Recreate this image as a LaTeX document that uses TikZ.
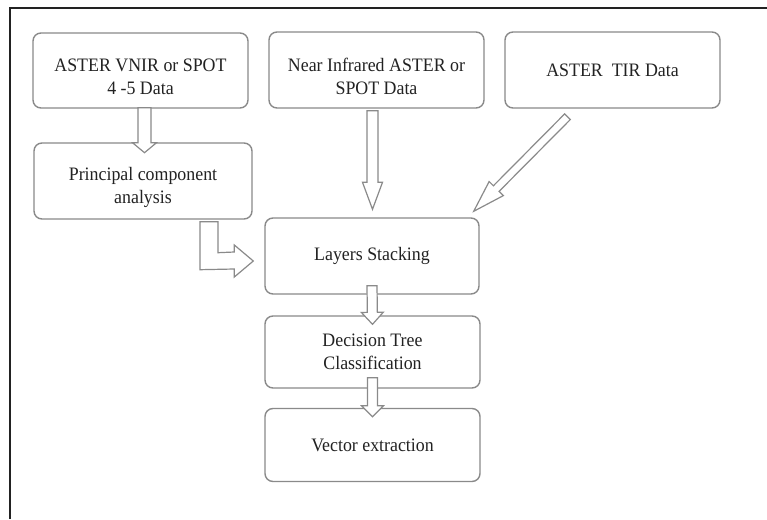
\documentclass[tikz,border=0pt]{standalone}
\usepackage{fontspec}
\setmainfont{Liberation Serif}[FakeStretch=0.94]
\usetikzlibrary{calc}
\definecolor{boxgray}{HTML}{8A8A8A}
\definecolor{txtc}{HTML}{222222}
\definecolor{framec}{HTML}{222222}
\newcommand\lowstrut{\rule{0pt}{26pt}}
\tikzset{
  procbox/.style={draw=boxgray, line width=1.4pt, rounded corners=8pt, fill=white,
    align=center, text=txtc, inner sep=0pt,
    font=\fontsize{19}{23}\selectfont},
  blockar/.style={draw=boxgray, line width=1.2pt, fill=white, line join=miter},
}
\newcommand\blockarrow[5]{%
  \path (#1) coordinate (ba-s) (#2) coordinate (ba-e);
  \path ($(ba-e)!#5!(ba-s)$) coordinate (ba-h);
  \draw[blockar] ($(ba-s)!#3!90:(ba-e)$) -- ($(ba-h)!#3!90:(ba-e)$)
    -- ($(ba-h)!#4!90:(ba-e)$) -- (ba-e) -- ($(ba-h)!#4!-90:(ba-e)$)
    -- ($(ba-h)!#3!-90:(ba-e)$) -- ($(ba-s)!#3!-90:(ba-e)$) -- cycle;
}
\begin{document}
\begin{tikzpicture}[x=1pt,y=-1pt]
\useasboundingbox[fill=white] (0,0) rectangle (767,519);
% frame
\draw[framec, line width=2.5pt] (10,519) -- (10,8) -- (767,8);
% boxes
\node[procbox, minimum width=215pt, minimum height=75pt] (A) at (140.5,70.5) {\lowstrut ASTER VNIR or SPOT\\4 -5 Data};
\node[procbox, minimum width=215pt, minimum height=76pt] (B) at (376.5,70) {\lowstrut Near Infrared ASTER or\\SPOT Data};
\node[procbox, minimum width=215pt, minimum height=76pt] (C) at (612.5,70) {ASTER\ \ TIR Data};
\node[procbox, minimum width=218pt, minimum height=76pt] (D) at (143,181) {\lowstrut Principal component\\analysis};
\node[procbox, minimum width=214pt, minimum height=76pt] (E) at (372,256) {Layers Stacking};
\node[procbox, minimum width=215pt, minimum height=72pt] (F) at (372.5,352) {Decision Tree\\Classification};
\node[procbox, minimum width=215pt, minimum height=73pt] (G) at (372.5,445) {Vector extraction};
% arrows
\blockarrow{$(A.south)+(4,-1)$}{$(A.south)+(4,44)$}{6.5pt}{12pt}{10pt}
\blockarrow{$(B.south)+(-4,2)$}{$(E.north)+(0.5,-8)$}{5.5pt}{10pt}{27pt}
\blockarrow{$(C.south)+(-45,8)$}{$(E.north east)+(-6,-6)$}{4pt}{10pt}{32pt}
\blockarrow{$(E.south)+(0,-9)$}{$(F.north)+(0,9)$}{5pt}{11pt}{12pt}
\blockarrow{$(F.south)+(0,-11)$}{$(G.north)+(0,9)$}{5pt}{11pt}{11pt}
% L-shaped arrow from D to E
\draw[blockar] ($(D.south)+(57,2)$) -- ($(D.south)+(57,50)$) -- ($(E.west)+(-30,13)$)
  -- ($(E.west)+(-30,21)$) -- ($(E.west)+(-11,5)$) -- ($(E.west)+(-30,-11)$)
  -- ($(E.west)+(-30,-4)$) -- ($(D.south)+(75,33)$) -- ($(D.south)+(75,2)$) -- cycle;
\end{tikzpicture}
\end{document}
